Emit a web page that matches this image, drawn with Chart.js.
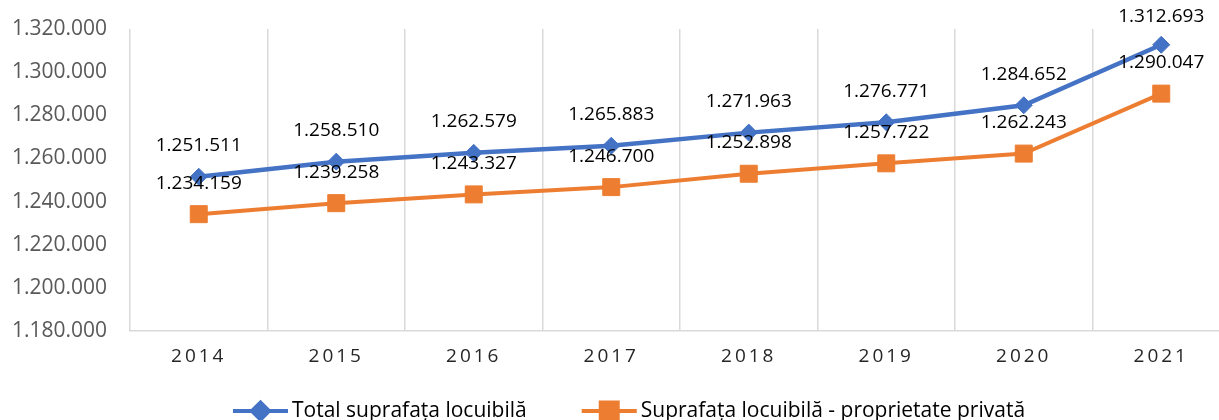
<!DOCTYPE html>
<html>
<head>
<meta charset="utf-8">
<script src="https://cdn.jsdelivr.net/npm/chart.js@4"></script>
<style>
  html, body { margin: 0; padding: 0; overflow: hidden; background: #fff; }
  #wrap { width: 1232px; height: 420px; }
  canvas { display: block; }
</style>
</head>
<body>
<div id="wrap"><canvas id="chart" width="1232" height="420"></canvas></div>
<script>
// Suprafața locuibilă 2014-2021 (m²)
const years = ["2014", "2015", "2016", "2017", "2018", "2019", "2020", "2021"];
const totalArea = [1251511, 1258510, 1262579, 1265883, 1271963, 1276771, 1284652, 1312693];
const privateArea = [1234159, 1239258, 1243327, 1246700, 1252898, 1257722, 1262243, 1290047];
const seriesNames = ["Total suprafața locuibilă", "Suprafața locuibilă - proprietate privată"];
const Y_MIN = 1180000, Y_MAX = 1320000, Y_STEP = 20000;

const FONT = "'Open Sans', sans-serif";
const BLUE = "#4472C4";
const ORANGE = "#ED7D31";
const GRID = "#d9d9d9";

const fmt = v => v.toLocaleString("de-DE");

// value labels above each point (no datalabels plugin offline)
const valueLabels = {
  id: "valueLabels",
  afterDatasetsDraw(chart) {
    const ctx = chart.ctx;
    ctx.save();
    ctx.font = `19px ${FONT}`;
    ctx.fillStyle = "#000";
    ctx.textAlign = "center";
    ctx.textBaseline = "middle";
    chart.data.datasets.forEach((ds, i) => {
      chart.getDatasetMeta(i).data.forEach((pt, j) => {
        ctx.fillText(fmt(ds.data[j]), pt.x, Math.max(pt.y - 31, 17));
      });
    });
    ctx.restore();
  },
};

// x tick labels are letter-spaced in the original
const spacedTicks = {
  id: "spacedTicks",
  beforeDraw(chart) {
    const x = chart.scales.x;
    if (x._spaced) return;
    const orig = x.drawLabels.bind(x);
    x.drawLabels = area => {
      chart.ctx.save();
      chart.ctx.letterSpacing = "3px";
      orig(area);
      chart.ctx.restore();
    };
    x._spaced = true;
  },
};

// legend with line + marker, like the spreadsheet one
const lineLegend = {
  id: "lineLegend",
  afterDraw(chart, args, o) {
    const ctx = chart.ctx;
    ctx.save();
    ctx.font = `21px ${FONT}`;
    ctx.textBaseline = "middle";
    let x = o.startX;
    chart.data.datasets.forEach(ds => {
      ctx.strokeStyle = ds.borderColor;
      ctx.lineWidth = 4;
      ctx.beginPath();
      ctx.moveTo(x, o.y);
      ctx.lineTo(x + o.lineLen, o.y);
      ctx.stroke();
      ctx.fillStyle = ds.pointBackgroundColor;
      ctx.strokeStyle = ds.pointBorderColor;
      Chart.helpers.drawPoint(ctx, {
        pointStyle: ds.pointStyle, radius: ds.pointRadius, rotation: 0, borderWidth: 1,
      }, x + o.lineLen / 2, o.y);
      x += o.lineLen + 4;
      ctx.fillStyle = "#000";
      ctx.fillText(ds.label, x, o.y);
      x += ctx.measureText(ds.label).width + o.itemGap;
    });
    ctx.restore();
  },
};

new Chart(document.getElementById("chart"), {
  type: "line",
  data: {
    labels: years,
    datasets: [
      { label: seriesNames[0], data: totalArea, borderColor: BLUE, borderWidth: 4.5,
        pointStyle: "rectRot", pointRadius: 8.5, pointBackgroundColor: BLUE,
        pointBorderColor: BLUE, pointBorderWidth: 1, tension: 0 },
      { label: seriesNames[1], data: privateArea, borderColor: ORANGE, borderWidth: 4,
        pointStyle: "rect", pointRadius: 12, pointBackgroundColor: ORANGE,
        pointBorderColor: ORANGE, pointBorderWidth: 1, tension: 0 },
    ],
  },
  options: {
    responsive: false,
    animation: false,
    // canvas is wider than the window: the plot area runs past the right edge, as in the original
    layout: { autoPadding: false, padding: { top: 29, right: 2, bottom: 29, left: 0 } },
    plugins: {
      legend: { display: false },
      tooltip: { enabled: false },
      lineLegend: { startX: 233, y: 411, lineLen: 55, itemGap: 55 },
    },
    scales: {
      x: {
        offset: true,
        grid: { offset: true, color: GRID, lineWidth: 1.5, drawTicks: false },
        border: { color: GRID, width: 1.5 },
        ticks: { color: "#262626", font: { family: FONT, size: 19 }, padding: 14 },
        afterFit: s => { s.height = 60; s.paddingLeft = 0; s.paddingRight = 0; },
      },
      y: {
        min: Y_MIN, max: Y_MAX,
        grid: { display: false, drawTicks: false },
        border: { display: false },
        ticks: { stepSize: Y_STEP, color: "#595959", font: { family: FONT, size: 21 },
                 padding: 23, callback: v => fmt(v) },
        afterFit: s => { s.width = 130; s.paddingTop = 0; s.paddingBottom = 0; },
      },
    },
  },
  plugins: [valueLabels, spacedTicks, lineLegend],
});
</script>
</body>
</html>
